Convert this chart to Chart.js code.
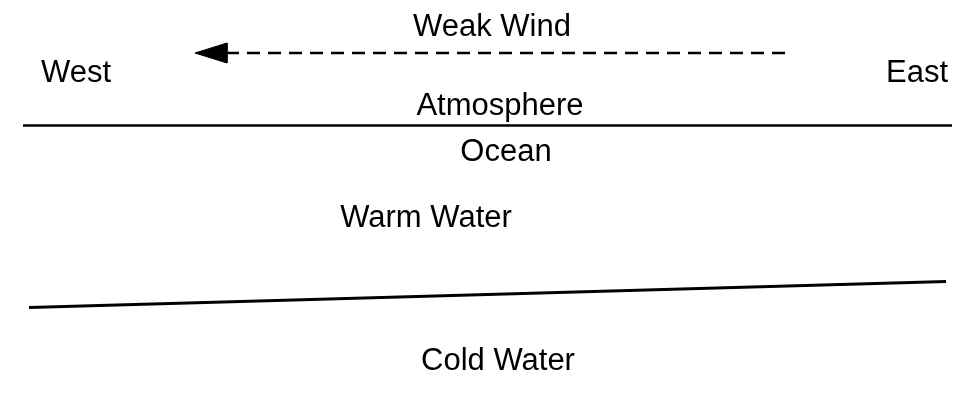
<!DOCTYPE html>
<html lang="en">
<head>
  <meta charset="UTF-8">
  <title>Weak Wind - Ocean</title>
  <script src="https://cdn.jsdelivr.net/npm/chart.js"></script>
  <style>
    body { margin: 0; background: #ffffff; }
    #wrap { width: 958px; height: 403px; }
  </style>
</head>
<body>
  <div id="wrap"><canvas id="diagram" width="958" height="403"></canvas></div>

  <script>
    // diagram space: x 0..958 (west -> east), y 0..403 (top -> bottom)
    const surfaceX = [23, 952];
    const surfaceY = [125.5, 125.5];

    const thermoX = [29, 946];
    const thermoY = [307.5, 281.5];

    const windX = [226, 791];
    const windY = [53, 53];

    const headX = [195, 227, 227, 195];
    const headY = [53, 43, 63, 53];

    const labelTexts = ["Weak Wind", "West", "East", "Atmosphere", "Ocean", "Warm Water", "Cold Water"];
    const labelX = [492, 76, 917, 500, 506, 426, 498];
    const labelY = [36, 82, 82, 115, 161, 227, 370];

    function pts(xs, ys) {
      return xs.map((x, i) => ({ x: x, y: ys[i] }));
    }

    const textPlugin = {
      id: 'textLabels',
      afterDatasetsDraw(chart) {
        const ctx = chart.ctx;
        const sx = chart.scales.x, sy = chart.scales.y;
        ctx.save();
        ctx.fillStyle = '#000';
        ctx.font = '31px "Liberation Sans", Arial, sans-serif';
        ctx.textAlign = 'center';
        ctx.textBaseline = 'alphabetic';
        labelTexts.forEach((t, i) => {
          ctx.fillText(t, sx.getPixelForValue(labelX[i]), sy.getPixelForValue(labelY[i]));
        });
        ctx.restore();
      }
    };

    const line = (data, width, extra) => Object.assign({
      data: data,
      showLine: true,
      borderColor: '#000',
      backgroundColor: '#000',
      borderWidth: width,
      pointRadius: 0,
      tension: 0,
      fill: false
    }, extra || {});

    new Chart(document.getElementById('diagram'), {
      type: 'scatter',
      data: {
        datasets: [
          line(pts(surfaceX, surfaceY), 2.5),
          line(pts(thermoX, thermoY), 3),
          line(pts(windX, windY), 2.5, { borderDash: [13, 8] }),
          line(pts(headX, headY), 1, { fill: 'shape' })
        ]
      },
      options: {
        responsive: false,
        animation: false,
        layout: { padding: 0 },
        plugins: { legend: { display: false }, tooltip: { enabled: false } },
        scales: {
          x: { type: 'linear', min: 0, max: 958, display: false },
          y: { type: 'linear', min: 0, max: 403, reverse: true, display: false }
        }
      },
      plugins: [textPlugin]
    });
  </script>
</body>
</html>
